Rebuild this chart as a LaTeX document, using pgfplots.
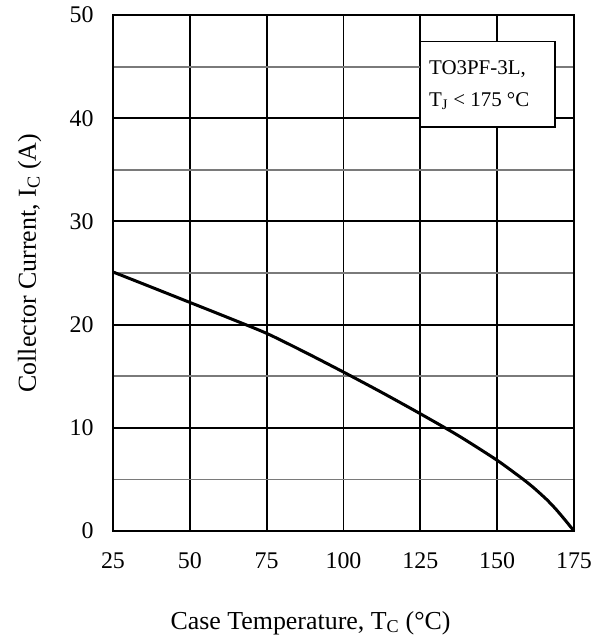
\documentclass[border=0pt]{standalone}
\usepackage{fontspec}
\setmainfont{Liberation Serif}
\usepackage{pgfplots}
\pgfplotsset{compat=1.18}
\begin{document}
\begin{tikzpicture}
\useasboundingbox (-113bp,-108bp) rectangle (490bp,531bp);
\begin{axis}[
  scale only axis, width=461bp, height=516bp,
  xmin=25, xmax=175, ymin=0, ymax=50,
  xtick={25,50,75,100,125,150,175},
  ytick={0,10,20,30,40,50},
  minor ytick={5,15,25,35,45},
  grid=both,
  major grid style={black, line width=1.9bp},
  minor grid style={black!52, line width=1.8bp},
  axis line style={line width=2.4bp},
  tick style={draw=none},
  /pgf/number format/assume math mode=true,
  ticklabel style={font=\fontsize{24}{28}\selectfont},
  xticklabel style={yshift=-18bp},
  yticklabel style={xshift=-16bp},
  xlabel={Case Temperature, T\textsubscript{C} (°C)},
  ylabel={Collector Current, I\textsubscript{C} (A)},
  label style={font=\fontsize{26}{30}\selectfont},
  xlabel style={at={([xshift=54bp,yshift=-98bp]rel axis cs:0,0)}, anchor=base west},
  ylabel style={at={([xshift=-77bp,yshift=135bp]rel axis cs:0,0)}, anchor=base west},
  clip=false,
]
\addplot[black, line width=3bp, smooth, tension=0.4] coordinates {
(25,25.1) (37.5,23.63) (50,22.15) (62.5,20.67) (75,19.15) (87.5,17.32)
(100,15.4) (112.5,13.42) (125,11.36) (137.5,9.22) (150,6.85) (158.5,5.0)
(162,4.16) (166,3.08) (169,2.15) (172,1.1) (175,0)
};
\draw[black, line width=1.5bp, fill=white] (axis cs:125.1,39.17) rectangle (axis cs:168.75,47.42);
\node[anchor=base west, inner sep=0pt, font=\fontsize{21}{24}\selectfont] at (axis cs:127.8,44.24) {TO3PF-3L,};
\node[anchor=base west, inner sep=0pt, font=\fontsize{21}{24}\selectfont] at (axis cs:127.8,41.16) {T\textsubscript{J} < 175 °C};
\end{axis}
\end{tikzpicture}
\end{document}
